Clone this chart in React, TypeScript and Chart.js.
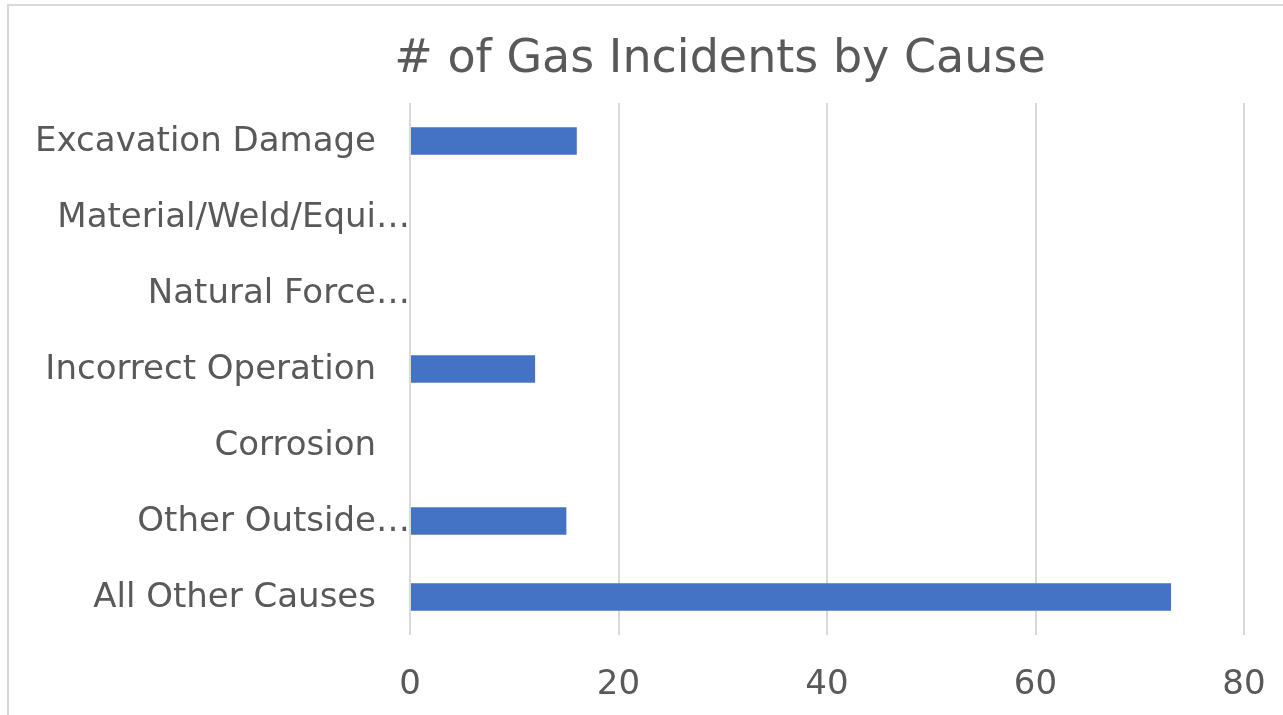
import React, { useEffect, useRef } from "react";
import { Chart, registerables } from "chart.js";

Chart.register(...registerables);

const chartTitle = "# of Gas Incidents by Cause";
const categories = [
  "Excavation Damage",
  "Material/Weld/Equi…",
  "Natural Force…",
  "Incorrect Operation",
  "Corrosion",
  "Other Outside…",
  "All Other Causes",
];
const incidents = [16, 0, 0, 12, 0, 15, 73];
const xTickValues = [0, 20, 40, 60, 80];

const FONT = "'DejaVu Sans', sans-serif";
const TEXT = "#595959";

const labelsAndTitle = {
  id: "labelsAndTitle",
  afterDraw(chart: any) {
    const ctx = chart.ctx;
    const y = chart.scales.y;
    const area = chart.chartArea;
    ctx.save();
    ctx.fillStyle = TEXT;
    ctx.font = `46px ${FONT}`;
    ctx.textAlign = "center";
    ctx.textBaseline = "middle";
    ctx.fillText(chartTitle, 720, 60);
    ctx.font = `34px ${FONT}`;
    ctx.textAlign = "right";
    categories.forEach((c, i) => {
      const py = y.getPixelForValue(i);
      const px = c.endsWith("…") ? area.left : area.left - 34;
      ctx.fillText(c, px, py + 1);
    });
    ctx.restore();
  },
};

export default function App() {
  const ref = useRef<HTMLCanvasElement>(null);
  useEffect(() => {
    if (!ref.current) return;
    const chart = new Chart(ref.current, {
      type: "bar",
      data: {
        labels: categories,
        datasets: [
          {
            label: "Incidents",
            data: incidents,
            backgroundColor: "#4472C4",
            borderWidth: 0,
            categoryPercentage: 1,
            barPercentage: 0.36,
          },
        ],
      },
      options: {
        indexAxis: "y",
        animation: false,
        responsive: false,
        maintainAspectRatio: false,
        devicePixelRatio: 1,
        layout: { padding: { top: 103, right: 39, left: 0, bottom: 0 } },
        plugins: {
          legend: { display: false },
          tooltip: { enabled: false },
          title: { display: false },
        },
        scales: {
          x: {
            min: 0,
            max: 80,
            afterBuildTicks: (s: any) => {
              s.ticks = xTickValues.map((v) => ({ value: v }));
            },
            afterFit: (s: any) => {
              s.height = 80;
              s.paddingLeft = 0;
              s.paddingRight = 0;
            },
            grid: { color: "#d9d9d9", lineWidth: 2, drawTicks: false },
            border: { display: false },
            ticks: {
              color: TEXT,
              font: { family: FONT, size: 34 },
              padding: 30,
            },
          },
          y: {
            offset: true,
            afterFit: (s: any) => {
              s.width = 410;
            },
            grid: { display: false },
            border: { display: false },
            ticks: { display: false },
          },
        },
      },
      plugins: [labelsAndTitle],
    });
    return () => chart.destroy();
  }, []);

  return (
    <div
      style={{
        position: "fixed",
        left: 0,
        top: 0,
        width: 1283,
        height: 715,
        overflow: "hidden",
        background: "#fff",
      }}
    >
      <canvas ref={ref} width={1283} height={715} style={{ display: "block" }} />
      <div
        style={{
          position: "absolute",
          left: 7,
          top: 4,
          width: 2000,
          height: 2000,
          border: "2px solid #d9d9d9",
          pointerEvents: "none",
        }}
      />
    </div>
  );
}
